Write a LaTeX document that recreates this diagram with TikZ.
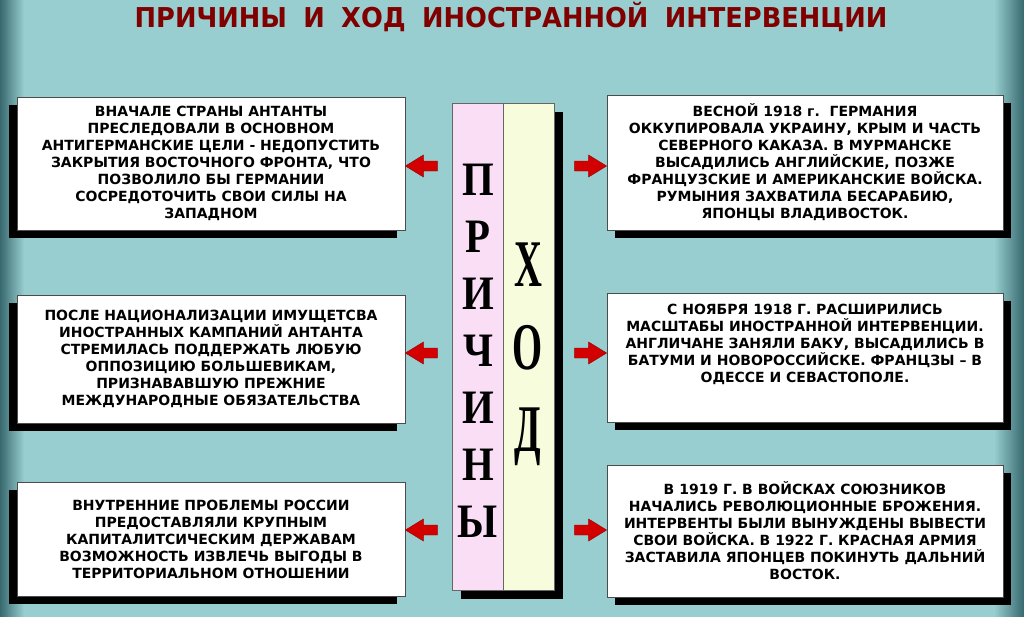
\documentclass[tikz,border=0pt]{standalone}
\usepackage{fontspec}
\usetikzlibrary{backgrounds}
\setmainfont{DejaVu Sans}
\newfontfamily\prfont[FakeStretch=0.85]{Liberation Serif}
\newfontfamily\hdfont[FakeStretch=0.58]{Liberation Serif}
\newfontfamily\ttlfont[FakeStretch=0.94]{DejaVu Sans}
\definecolor{bgteal}{RGB}{152,206,208}
\definecolor{edgedark}{RGB}{55,105,110}
\definecolor{titlered}{RGB}{128,0,0}
\definecolor{colpink}{RGB}{250,222,246}
\definecolor{colyellow}{RGB}{246,252,220}
\definecolor{arrowred}{RGB}{210,0,0}
\definecolor{arrowdark}{RGB}{150,0,0}
\tikzset{
  textbox/.style={draw=black!70, line width=0.6pt, fill=white, inner sep=0pt,
    align=center, font=\fontsize{10.5}{12.75}\selectfont\bfseries},
  colbox/.style={draw=black!60, line width=0.5pt, inner sep=0pt,
    minimum width=38.25pt, minimum height=365.25pt},
  shadowfill/.style={fill=black},
  rarrow/.pic={\fill[arrowred, draw=arrowdark, line width=0.3pt]
    (0,0) -- (-18,-11) -- (-18,-5) -- (-32,-5) -- (-32,5) -- (-18,5) -- (-18,11) -- cycle;},
  larrow/.pic={\fill[arrowred, draw=arrowdark, line width=0.3pt]
    (0,0) -- (18,-11) -- (18,-5) -- (32,-5) -- (32,5) -- (18,5) -- (18,11) -- cycle;}
}
\begin{document}
\begin{tikzpicture}[x=0.75pt, y=-0.75pt]
\useasboundingbox (0,0) rectangle (1024,617);

% title
\node[font=\ttlfont\fontsize{20.5}{24}\selectfont\bfseries, text=titlered] (title) at (511,17)
  {ПРИЧИНЫ\hspace{0.6em}И\hspace{0.6em}ХОД\hspace{0.6em}ИНОСТРАННОЙ\hspace{0.6em}ИНТЕРВЕНЦИИ};

% left boxes
\node[textbox, minimum width=291pt, minimum height=99.75pt] (L1) at (211,163.5)
  {ВНАЧАЛЕ СТРАНЫ АНТАНТЫ\\ПРЕСЛЕДОВАЛИ В ОСНОВНОМ\\АНТИГЕРМАНСКИЕ ЦЕЛИ - НЕДОПУСТИТЬ\\ЗАКРЫТИЯ ВОСТОЧНОГО ФРОНТА, ЧТО\\ПОЗВОЛИЛО БЫ ГЕРМАНИИ\\СОСРЕДОТОЧИТЬ СВОИ СИЛЫ НА\\ЗАПАДНОМ};
\node[textbox, minimum width=291pt, minimum height=96pt] (L2) at (211,359)
  {ПОСЛЕ НАЦИОНАЛИЗАЦИИ ИМУЩЕТСВА\\ИНОСТРАННЫХ КАМПАНИЙ АНТАНТА\\СТРЕМИЛАСЬ ПОДДЕРЖАТЬ ЛЮБУЮ\\ОППОЗИЦИЮ БОЛЬШЕВИКАМ,\\ПРИЗНАВАВШУЮ ПРЕЖНИЕ\\МЕЖДУНАРОДНЫЕ ОБЯЗАТЕЛЬСТВА};
\node[textbox, minimum width=291pt, minimum height=85.5pt] (L3) at (211,539)
  {ВНУТРЕННИЕ ПРОБЛЕМЫ РОССИИ\\ПРЕДОСТАВЛЯЛИ КРУПНЫМ\\КАПИТАЛИТСИЧЕСКИМ ДЕРЖАВАМ\\ВОЗМОЖНОСТЬ ИЗВЛЕЧЬ ВЫГОДЫ В\\ТЕРРИТОРИАЛЬНОМ ОТНОШЕНИИ};

% right boxes
\node[textbox, minimum width=297pt, minimum height=101.25pt] (R1) at (805,162.5)
  {ВЕСНОЙ 1918 г.\ \ ГЕРМАНИЯ\\ОККУПИРОВАЛА УКРАИНУ, КРЫМ И ЧАСТЬ\\СЕВЕРНОГО КАКАЗА. В МУРМАНСКЕ\\ВЫСАДИЛИСЬ АНГЛИЙСКИЕ, ПОЗЖЕ\\ФРАНЦУЗСКИЕ И АМЕРИКАНСКИЕ ВОЙСКА.\\РУМЫНИЯ ЗАХВАТИЛА БЕСАРАБИЮ,\\ЯПОНЦЫ ВЛАДИВОСТОК.};
\node[textbox, minimum width=297pt, minimum height=96.75pt] (R2) at (805,357.5)
  {С НОЯБРЯ 1918 Г. РАСШИРИЛИСЬ\\МАСШТАБЫ ИНОСТРАННОЙ ИНТЕРВЕНЦИИ.\\АНГЛИЧАНЕ ЗАНЯЛИ БАКУ, ВЫСАДИЛИСЬ В\\БАТУМИ И НОВОРОССИЙСКЕ. ФРАНЦЗЫ – В\\ОДЕССЕ И СЕВАСТОПОЛЕ.\\[9pt]};
\node[textbox, minimum width=297pt, minimum height=99pt] (R3) at (805,531)
  {В 1919 Г. В ВОЙСКАХ СОЮЗНИКОВ\\НАЧАЛИСЬ РЕВОЛЮЦИОННЫЕ БРОЖЕНИЯ.\\ИНТЕРВЕНТЫ БЫЛИ ВЫНУЖДЕНЫ ВЫВЕСТИ\\СВОИ ВОЙСКА. В 1922 Г. КРАСНАЯ АРМИЯ\\ЗАСТАВИЛА ЯПОНЦЕВ ПОКИНУТЬ ДАЛЬНИЙ\\ВОСТОК.};

% central columns
\node[colbox, fill=colpink] (cpink) at (477.5,346.5) {};
\node[colbox, fill=colyellow] (cyel) at (528.5,346.5) {};
\node[font=\prfont\fontsize{36}{42.75}\selectfont\bfseries, align=center, inner sep=0pt] (prich) at (478,350.5)
  {П\\Р\\И\\Ч\\И\\Н\\Ы};
\node[font=\hdfont\fontsize{50}{62}\selectfont\bfseries, align=center, inner sep=0pt] (khod) at (528,354.5)
  {Х\\О\\Д};

% background and shadows
\begin{scope}[on background layer]
\fill[bgteal] (0,0) rectangle (1024,617);
\shade[left color=edgedark, right color=bgteal] (0,0) rectangle (24,617);
\shade[left color=bgteal, right color=edgedark] (994,0) rectangle (1024,617);
\foreach \b in {L1,L2,L3}
  \fill[shadowfill] ([shift={(-8,8)}]\b.north west) rectangle ([shift={(-8,8)}]\b.south east);
\foreach \b in {R1,R2,R3}
  \fill[shadowfill] ([shift={(8,8)}]\b.north west) rectangle ([shift={(8,8)}]\b.south east);
\fill[shadowfill] ([shift={(9,9)}]cpink.north west) rectangle ([shift={(9,9)}]cyel.south east);
\end{scope}

% arrows
\pic at (L1.east |- 0,166) {larrow};
\pic at (L2.east |- 0,353) {larrow};
\pic at (L3.east |- 0,530) {larrow};
\pic at (R1.west |- 0,166) {rarrow};
\pic at (R2.west |- 0,353) {rarrow};
\pic at (R3.west |- 0,530) {rarrow};
\end{tikzpicture}
\end{document}
